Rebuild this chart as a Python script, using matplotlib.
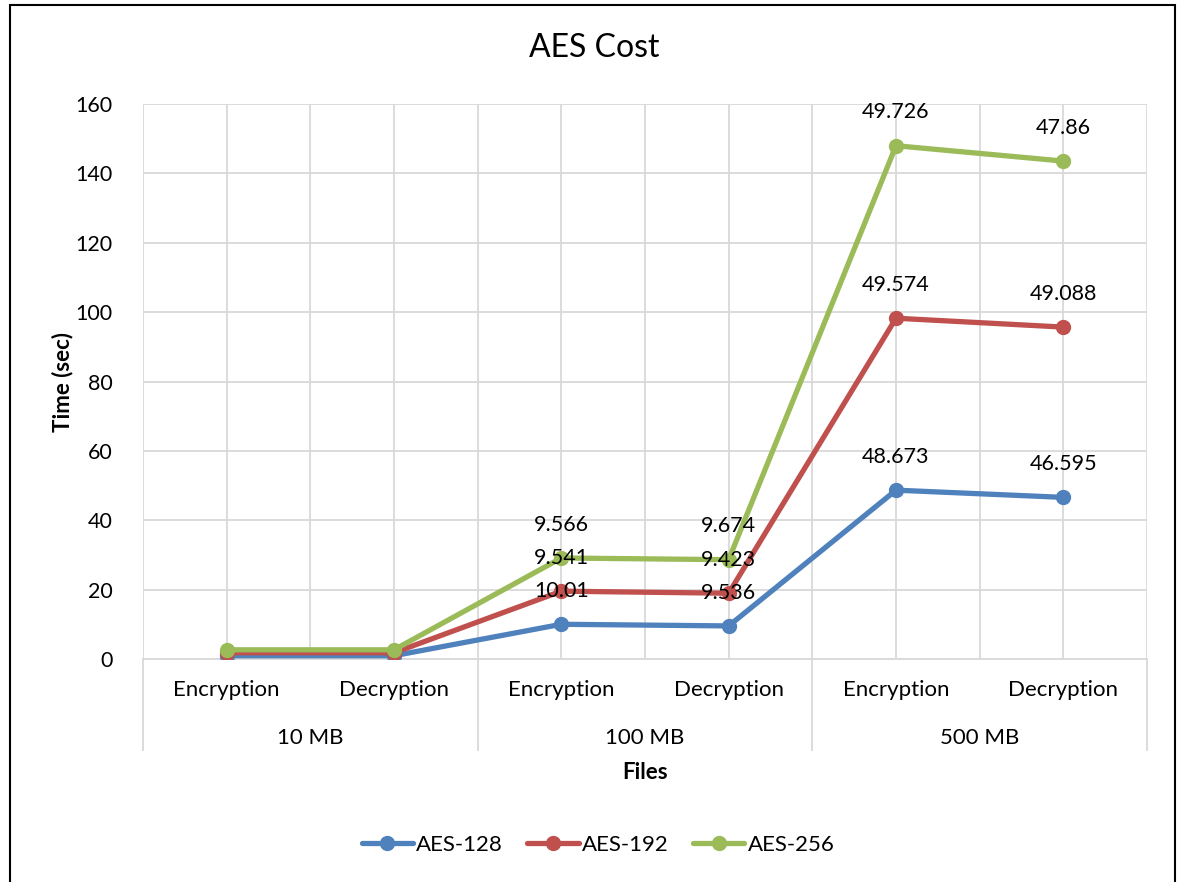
import matplotlib

matplotlib.use("Agg")
import matplotlib.pyplot as plt
from matplotlib.patches import Rectangle
import numpy as np

plt.rcParams["font.family"] = ["Lato", "DejaVu Sans"]

# data (Excel stacked line chart: labels show each series' own value)
operations = ["Encryption", "Decryption"] * 3
file_groups = ["10 MB", "100 MB", "500 MB"]
series_names = ["AES-128", "AES-192", "AES-256"]
aes128 = [0.95, 0.95, 10.01, 9.536, 48.673, 46.595]
aes192 = [0.85, 0.85, 9.541, 9.423, 49.574, 49.088]
aes256 = [0.85, 0.85, 9.566, 9.674, 49.726, 47.86]
show_label = [False, False, True, True, True, True]
yticks = [0, 20, 40, 60, 80, 100, 120, 140, 160]

colors = ["#4F81BD", "#C0504D", "#9BBB59"]
grid_color = "#D9D9D9"

W, H = 1180, 882
fig = plt.figure(figsize=(W / 100, H / 100), dpi=100)
fig.patches.append(Rectangle((10 / W, -0.05), 1165 / W, 1.05 - 5 / H, transform=fig.transFigure,
                             fill=False, edgecolor="#000000", linewidth=1.5))

ax = fig.add_axes([143 / W, 1 - 659 / H, (1147 - 143) / W, (659 - 104) / H])
x = np.arange(len(operations))
values = np.array([aes128, aes192, aes256])
stacked = np.cumsum(values, axis=0)

for name, own, cum, color in zip(series_names, values, stacked, colors):
    ax.plot(x, cum, color=color, linewidth=3.8, marker="o", markersize=10,
            label=name, solid_capstyle="round", zorder=3)
    for xi, yi, v, show in zip(x, cum, own, show_label):
        if show:
            ax.annotate(f"{v:g}", (xi, yi), xytext=(0, 24), textcoords="offset points",
                        ha="center", va="center", fontsize=15.5, color="#000000", zorder=4)

ax.set_xlim(-0.5, len(operations) - 0.5)
ax.set_ylim(0, 160)
ax.set_yticks(yticks)
ax.set_xticks(np.arange(-0.5, len(operations), 0.5), minor=False)
ax.set_xticklabels([])
ax.tick_params(axis="both", length=0)
ax.tick_params(axis="y", labelsize=15.5, pad=22)
ax.grid(True, color=grid_color, linewidth=1.3)
ax.set_axisbelow(True)
for side in ["top", "right", "left"]:
    ax.spines[side].set_visible(False)
ax.spines["bottom"].set_color(grid_color)
ax.spines["bottom"].set_linewidth(1.3)

# two-level category axis
trans = ax.get_xaxis_transform()
for xi, op in zip(x, operations):
    ax.text(xi, -0.056, op, transform=trans, ha="center", va="center", fontsize=16)
for gi, group in enumerate(file_groups):
    ax.text(2 * gi + 0.5, -0.142, group, transform=trans, ha="center", va="center", fontsize=16)
for sep in np.arange(-0.5, len(operations), 2):
    ax.plot([sep, sep], [0, -0.164], transform=trans, color=grid_color,
            linewidth=1.3, clip_on=False)

ax.text(0.5, -0.205, "Files", transform=ax.transAxes, ha="center", va="center",
        fontsize=16, fontweight="bold")
ax.set_ylabel("Time (sec)", fontsize=16, fontweight="bold", labelpad=1)
fig.text(594 / W, 1 - 48 / H, "AES Cost", ha="center", va="center", fontsize=23)

fig.legend(loc="center", bbox_to_anchor=(598 / W, 1 - 845 / H), ncol=3, frameon=False,
           fontsize=16, handlelength=2.3, columnspacing=1.1, handletextpad=0.15)

fig.savefig("out.png", dpi=100)
